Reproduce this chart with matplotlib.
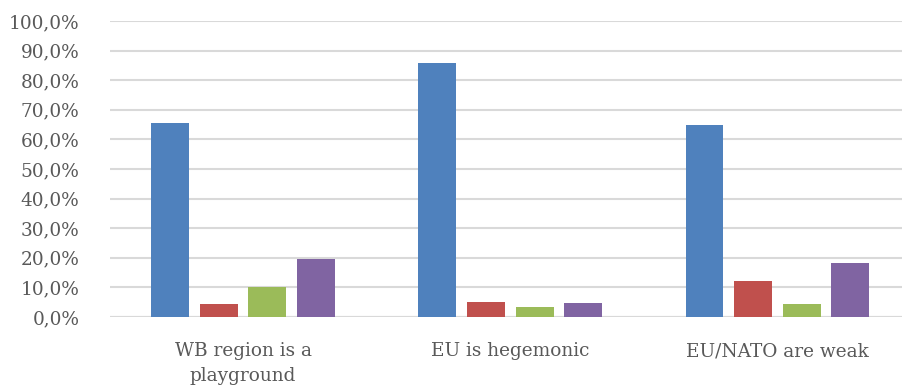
import matplotlib
matplotlib.use("Agg")
import matplotlib.pyplot as plt
import numpy as np
from matplotlib.ticker import FuncFormatter

# data (share of answers)
categories = ["WB region is a\nplayground", "EU is hegemonic", "EU/NATO are weak"]
series_1 = [0.656, 0.857, 0.649]
series_2 = [0.044, 0.052, 0.123]
series_3 = [0.100, 0.035, 0.044]
series_4 = [0.196, 0.048, 0.183]
colors = ["#4F81BD", "#C0504D", "#9BBB59", "#8064A2"]
y_ticks = np.arange(0, 1.01, 0.1)

plt.rcParams['font.family'] = ['DejaVu Serif']
text_color = "#595959"
grid_color = "#D9D9D9"

fig = plt.figure(figsize=(9.03, 3.9), dpi=100)
ax = fig.add_axes([110 / 903, 73 / 390, 1 - 110 / 903, 296 / 390])

x = np.arange(len(categories))
width = 0.142
step = 0.182
all_series = [series_1, series_2, series_3, series_4]
for i, (vals, c) in enumerate(zip(all_series, colors)):
    ax.bar(x + (i - 1.5) * step, vals, width, color=c, zorder=3)

ax.set_ylim(0, 1)
ax.set_xlim(-0.498, 2.47)
ax.set_yticks(y_ticks)
ax.yaxis.set_major_formatter(FuncFormatter(lambda v, p: f"{v * 100:.1f}%".replace(".", ",")))
ax.set_xticks(x)
ax.set_xticklabels(categories, linespacing=1.5)

ax.grid(axis="y", color=grid_color, linewidth=1.5, zorder=0)
ax.set_axisbelow(True)
for s in ["top", "right", "left", "bottom"]:
    ax.spines[s].set_visible(False)
ax.axhline(0, color=grid_color, linewidth=1.5, zorder=2)

ax.tick_params(axis="y", length=0, pad=22, labelsize=13.3, labelcolor=text_color)
ax.tick_params(axis="x", length=0, pad=18, labelsize=13.3, labelcolor=text_color)

plt.savefig("out.png", dpi=100)
